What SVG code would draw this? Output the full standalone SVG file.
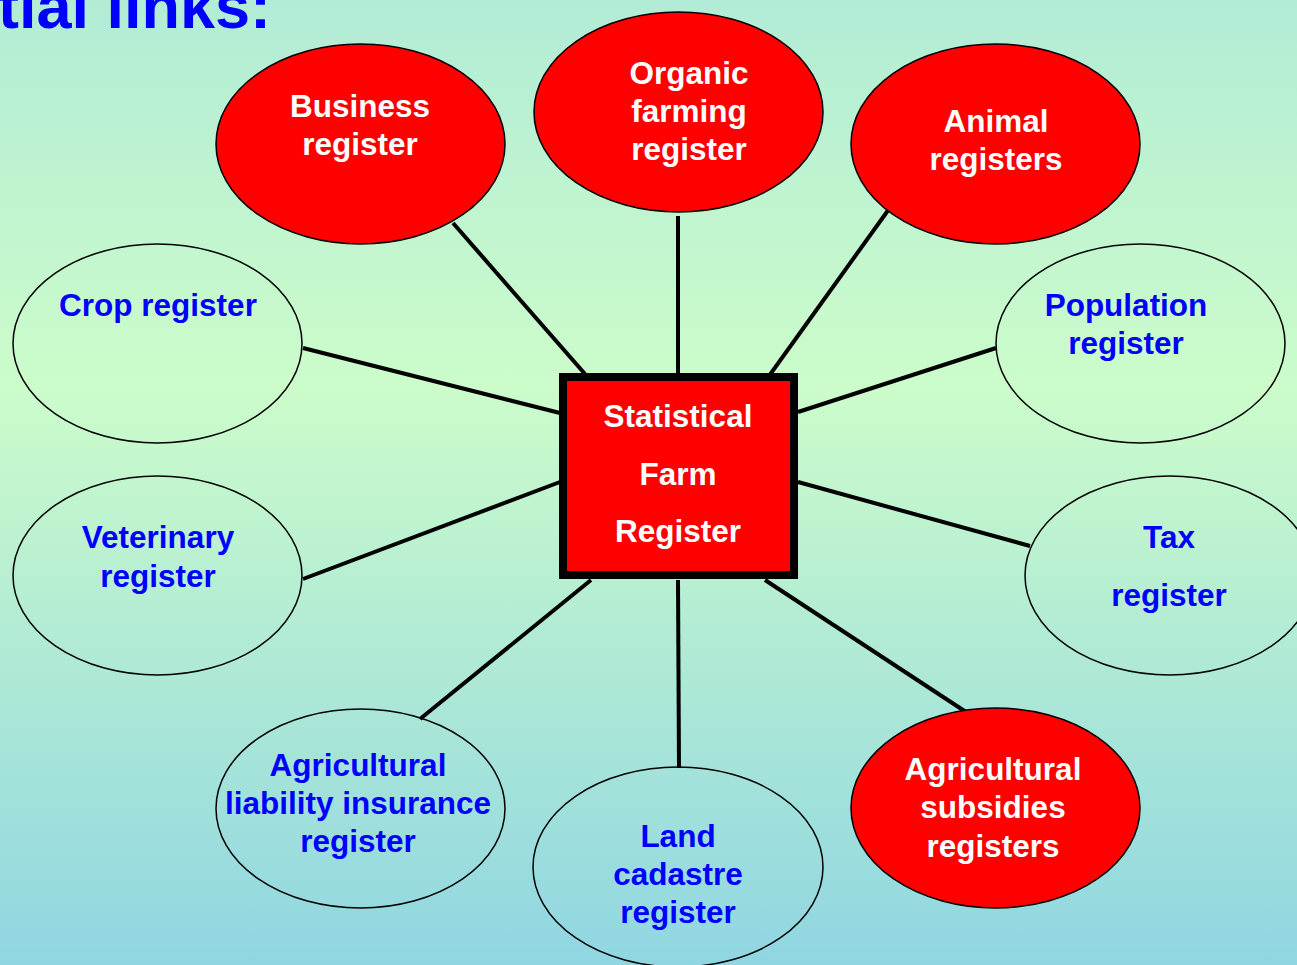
<svg xmlns="http://www.w3.org/2000/svg" width="1297" height="965" viewBox="0 0 1297 965">
<defs>
<linearGradient id="bg" x1="0" y1="0" x2="0" y2="1">
<stop offset="0" stop-color="#b2ecd6"/>
<stop offset="0.4" stop-color="#ccfcca"/>
<stop offset="1" stop-color="#90d6e2"/>
</linearGradient>
<style>
.red{fill:#ff0000;stroke:#000;stroke-width:1.5}
.plain{fill:none;stroke:#000;stroke-width:1.5}
.wt{font-family:"Liberation Sans",Arial,sans-serif;font-weight:bold;font-size:31.5px;fill:#fff;text-anchor:middle}
.bt{font-family:"Liberation Sans",Arial,sans-serif;font-weight:bold;font-size:31.5px;fill:#0000ff;text-anchor:middle}
.conn line{stroke:#000;stroke-width:4}
</style>
</defs>
<rect width="1297" height="965" fill="url(#bg)"/>
<text x="-2" y="28" font-family="Liberation Sans, Arial, sans-serif" font-weight="bold" font-size="63" fill="#0000ff">tial links:</text>
<g id="connectors" class="conn">
<line x1="453" y1="223" x2="585" y2="374"/>
<line x1="678" y1="216" x2="678" y2="374"/>
<line x1="889" y1="209" x2="769" y2="376"/>
<line x1="303" y1="348" x2="560" y2="413"/>
<line x1="996" y1="348" x2="798" y2="412"/>
<line x1="303" y1="579" x2="560" y2="482"/>
<line x1="1030" y1="546" x2="798" y2="482"/>
<line x1="420" y1="719" x2="591" y2="580"/>
<line x1="678" y1="580" x2="679" y2="768"/>
<line x1="966" y1="712" x2="765" y2="580"/>
</g>
<g id="business">
<ellipse class="red" cx="360.5" cy="144" rx="144.5" ry="100"/>
<text class="wt" x="360" y="117">Business</text>
<text class="wt" x="360" y="155">register</text>
</g>
<g id="organic">
<ellipse class="red" cx="678.5" cy="112" rx="144.5" ry="100"/>
<text class="wt" x="689" y="84">Organic</text>
<text class="wt" x="689" y="122">farming</text>
<text class="wt" x="689" y="160">register</text>
</g>
<g id="animal">
<ellipse class="red" cx="995.5" cy="144" rx="144.5" ry="100"/>
<text class="wt" x="996" y="132">Animal</text>
<text class="wt" x="996" y="170">registers</text>
</g>
<g id="crop">
<ellipse class="plain" cx="157.5" cy="343.5" rx="144.5" ry="99.5"/>
<text class="bt" x="158" y="316">Crop register</text>
</g>
<g id="population">
<ellipse class="plain" cx="1140.5" cy="343.5" rx="144.5" ry="99.5"/>
<text class="bt" x="1126" y="316">Population</text>
<text class="bt" x="1126" y="354">register</text>
</g>
<g id="veterinary">
<ellipse class="plain" cx="157.5" cy="575.5" rx="144.5" ry="99.5"/>
<text class="bt" x="158" y="548">Veterinary</text>
<text class="bt" x="158" y="587">register</text>
</g>
<g id="tax">
<ellipse class="plain" cx="1169.5" cy="575.5" rx="144.5" ry="99.5"/>
<text class="bt" x="1169" y="548">Tax</text>
<text class="bt" x="1169" y="606">register</text>
</g>
<g id="liability">
<ellipse class="plain" cx="360.5" cy="808.5" rx="144.5" ry="99.5"/>
<text class="bt" x="358" y="776">Agricultural</text>
<text class="bt" x="358" y="814">liability insurance</text>
<text class="bt" x="358" y="852">register</text>
</g>
<g id="land">
<ellipse class="plain" cx="678" cy="867" rx="145" ry="100"/>
<text class="bt" x="678" y="847">Land</text>
<text class="bt" x="678" y="885">cadastre</text>
<text class="bt" x="678" y="923">register</text>
</g>
<g id="subsidies">
<ellipse class="red" cx="995.5" cy="808" rx="144.5" ry="100"/>
<text class="wt" x="993" y="780">Agricultural</text>
<text class="wt" x="993" y="818">subsidies</text>
<text class="wt" x="993" y="857">registers</text>
</g>
<g id="center">
<rect x="563" y="377" width="231" height="198" fill="#ff0000" stroke="#000" stroke-width="8"/>
<text class="wt" x="678" y="427">Statistical</text>
<text class="wt" x="678" y="485">Farm</text>
<text class="wt" x="678" y="542">Register</text>
</g>
</svg>
